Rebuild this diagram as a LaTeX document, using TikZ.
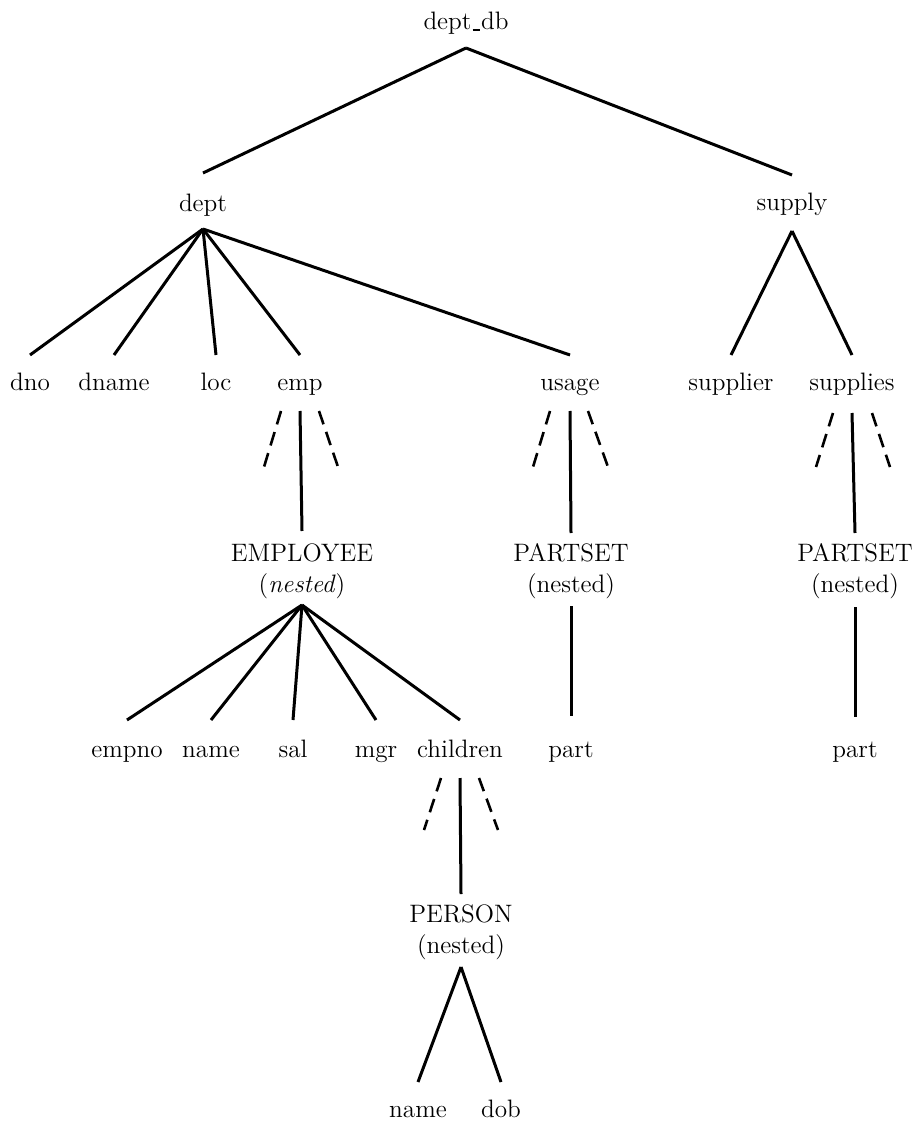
\documentclass[tikz,border=0pt]{standalone}
\usepackage{fontspec}
\begin{document}
\begin{tikzpicture}[x=0.5pt,y=-0.5pt,
  lbl/.style={inner sep=0pt, outer sep=0pt, anchor=base, font=\fontsize{12.6}{15.5}\selectfont},
  ln/.style={line width=1.5pt},
  dsh/.style={line width=1.3pt, dash pattern=on 7pt off 4pt}]
\useasboundingbox (0,0) rectangle (918,1133);
% level 0
\node[lbl, text depth=9pt] (deptdb) at (466,30) {dept\kern0.04em\rule[-0.03em]{0.3em}{0.07em}\kern0.04em db};
% level 1
\node[lbl, text height=19.5pt, text depth=8.5pt] (dept) at (203,212) {dept};
\node[lbl, text height=18pt, text depth=10pt] (supply) at (792,211) {supply};
% level 2
\node[lbl, text height=18pt] (dno) at (30,391) {dno};
\node[lbl, text height=18pt] (dname) at (114,391) {dname};
\node[lbl, text height=18pt] (loc) at (216,391) {loc};
\node[lbl, text height=18pt, text depth=10pt] (emp) at (300,391) {emp};
\node[lbl, text height=18pt, text depth=10pt] (usage) at (570,391) {usage};
\node[lbl, text height=18pt] (supplier) at (731,391) {supplier};
\node[lbl, text height=18pt, text depth=11pt] (supplies) at (852,391) {supplies};
% nested sets
\node[lbl, text height=15pt, text depth=22pt] (employee) at (302,561)
  {\begin{tabular}[t]{@{}c@{}}EMPLOYEE\\(\textit{nested})\end{tabular}};
\node[lbl, text height=14pt, text depth=22.5pt] (partsetA) at (571,561)
  {\begin{tabular}[t]{@{}c@{}}PARTSET\\(nested)\end{tabular}};
\node[lbl, text height=14pt, text depth=23pt] (partsetB) at (855,561)
  {\begin{tabular}[t]{@{}c@{}}PARTSET\\(nested)\end{tabular}};
% level 4
\node[lbl, text height=18.5pt] (empno) at (127,757) {empno};
\node[lbl, text height=18.5pt] (ename) at (211,757) {name};
\node[lbl, text height=18.5pt] (sal) at (293,757) {sal};
\node[lbl, text height=18.5pt] (mgr) at (376,757) {mgr};
\node[lbl, text height=18.5pt, text depth=10.5pt] (children) at (460,757) {children};
\node[lbl, text height=20.5pt] (partA) at (571,757) {part};
\node[lbl, text height=20pt] (partB) at (855,757) {part};
% person
\node[lbl, text height=14pt, text depth=22.5pt] (person) at (461,922)
  {\begin{tabular}[t]{@{}c@{}}PERSON\\(nested)\end{tabular}};
\node[lbl, text height=17.5pt] (pname) at (418,1117) {name};
\node[lbl, text height=17.5pt] (dob) at (501,1117) {dob};

% solid connectors
\draw[ln] (deptdb.south) -- (dept.north);
\draw[ln] (deptdb.south) -- (supply.north);
\foreach \c in {dno,dname,loc,emp,usage} \draw[ln] (dept.south) -- (\c.north);
\foreach \c in {supplier,supplies} \draw[ln] (supply.south) -- (\c.north);
\draw[ln] (emp.south) -- (employee.north);
\draw[ln] (usage.south) -- (partsetA.north);
\draw[ln] (supplies.south) -- (partsetB.north);
\foreach \c in {empno,ename,sal,mgr,children} \draw[ln] (employee.south) -- (\c.north);
\draw[ln] (partsetA.south) -- (partA.north);
\draw[ln] (partsetB.south) -- (partB.north);
\draw[ln] (children.south) -- (person.north);
\draw[ln] (person.south) -- (pname.north);
\draw[ln] (person.south) -- (dob.north);

% dashed fan lines
\coordinate (empLa) at (281,411); \coordinate (empLb) at (264,467);
\coordinate (empRa) at (319,411); \coordinate (empRb) at (338,467);
\coordinate (usgLa) at (550,411); \coordinate (usgLb) at (533,467);
\coordinate (usgRa) at (588,411); \coordinate (usgRb) at (608,467);
\coordinate (supLa) at (833,413); \coordinate (supLb) at (816,467);
\coordinate (supRa) at (872,413); \coordinate (supRb) at (890,467);
\coordinate (chdLa) at (441,778); \coordinate (chdLb) at (424,830);
\coordinate (chdRa) at (479,778); \coordinate (chdRb) at (498,830);
\draw[dsh] (empLa) -- (empLb);
\draw[dsh] (empRa) -- (empRb);
\draw[dsh] (usgLa) -- (usgLb);
\draw[dsh] (usgRa) -- (usgRb);
\draw[dsh] (supLa) -- (supLb);
\draw[dsh] (supRa) -- (supRb);
\draw[dsh] (chdLa) -- (chdLb);
\draw[dsh] (chdRa) -- (chdRb);
\end{tikzpicture}
\end{document}
